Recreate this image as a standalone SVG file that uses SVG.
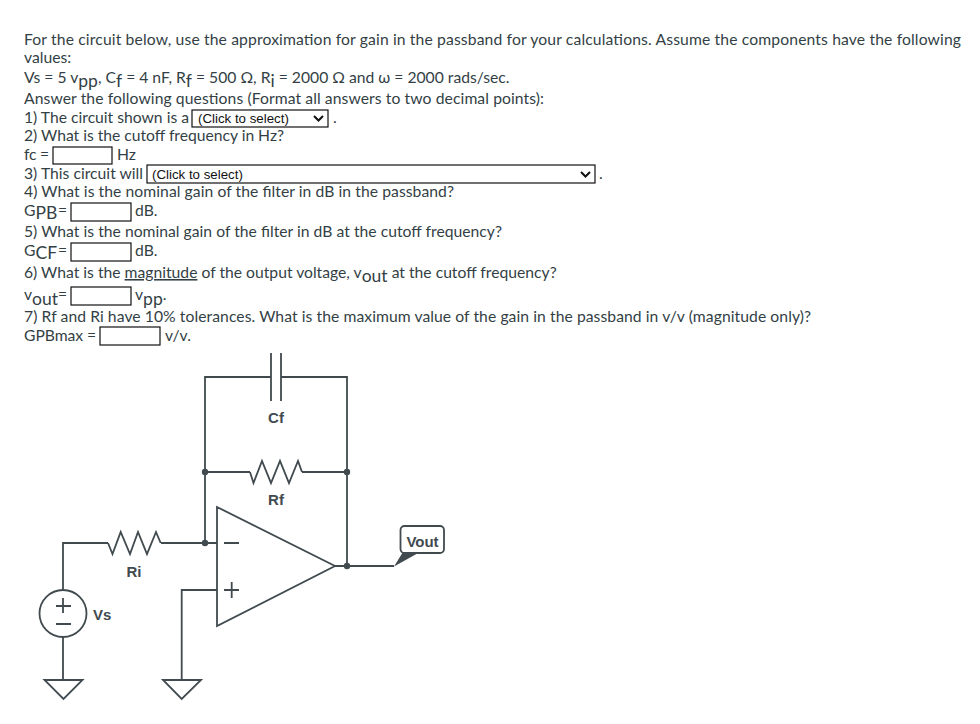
<svg xmlns="http://www.w3.org/2000/svg" width="980" height="724" viewBox="0 0 980 724">
<style>
text{font-family:"Lato","Liberation Sans",sans-serif;font-size:15.7px;fill:#333f45}
.sel{font-family:"Liberation Sans",sans-serif;font-size:13.3px;fill:#111}
.box{fill:#fff;stroke:#111;stroke-width:1.2}
.chev{fill:none;stroke:#111;stroke-width:2}
.w{fill:none;stroke:#414a4e;stroke-width:1.8}
.d{fill:#414a4e}
.lab{font-family:"Liberation Sans",sans-serif;font-size:15px;font-weight:bold;fill:#414a4e}
.sub{font-size:17.500px}
</style>
<rect width="980" height="724" fill="#fff"/>
<g id="question">
<text x="24" y="45" textLength="937">For the circuit below, use the approximation for gain in the passband for your calculations. Assume the components have the following</text>
<text x="24" y="63">values:</text>
<text x="24" y="83">Vs = 5 v<tspan dy="4" class="sub">pp</tspan><tspan dy="-4">, C</tspan><tspan dy="4" class="sub">f</tspan><tspan dy="-4"> = 4 nF, R</tspan><tspan dy="4" class="sub">f</tspan><tspan dy="-4"> = 500 Ω, R</tspan><tspan dy="4" class="sub">i</tspan><tspan dy="-4"> = 2000 Ω and ω = 2000 rads/sec.</tspan></text>
<text x="24" y="104" textLength="520">Answer the following questions (Format all answers to two decimal points):</text>
<text x="24" y="123" textLength="165">1) The circuit shown is a</text>
<rect class="box" x="192" y="110" width="136" height="17"/>
<text class="sel" x="198" y="123">(Click to select)</text>
<path class="chev" d="M314 116l4.500 4.500l4.500-4.500"/>
<text x="333" y="123">.</text>
<text x="24" y="141" textLength="260">2) What is the cutoff frequency in Hz?</text>
<text x="24" y="160" textLength="25">fc =</text>
<rect class="box" x="53" y="147" width="59" height="17"/>
<text x="117" y="160">Hz</text>
<text x="24" y="179" textLength="119">3) This circuit will</text>
<rect class="box" x="147" y="165" width="448" height="18"/>
<text class="sel" x="152" y="179">(Click to select)</text>
<path class="chev" d="M581 172l4.500 4.500l4.500-4.500"/>
<text x="599" y="179">.</text>
<text x="24" y="197" textLength="430">4) What is the nominal gain of the filter in dB in the passband?</text>
<text x="24" y="216">G<tspan dy="3" class="sub" font-size="16">PB</tspan><tspan x="58" dy="-3">=</tspan></text>
<rect class="box" x="71" y="203" width="60" height="18"/>
<text x="135" y="216">dB.</text>
<text x="24" y="237" textLength="478">5) What is the nominal gain of the filter in dB at the cutoff frequency?</text>
<text x="24" y="256">G<tspan dy="3" class="sub">CF</tspan><tspan x="58" dy="-3">=</tspan></text>
<rect class="box" x="71" y="243" width="60" height="18"/>
<text x="135" y="256">dB.</text>
<text x="24" y="278">6) What is the <tspan text-decoration="underline">magnitude</tspan> of the output voltage, v<tspan dy="4" class="sub">out</tspan><tspan dy="-4"> at the cutoff frequency?</tspan></text>
<text x="24" y="300">v<tspan dy="5" class="sub">out</tspan><tspan x="58" dy="-5">=</tspan></text>
<rect class="box" x="71" y="287" width="60" height="18"/>
<text x="135" y="300">v<tspan dy="5" class="sub">pp</tspan><tspan dy="-5">.</tspan></text>
<text x="24" y="322" textLength="787">7) Rf and Ri have 10% tolerances. What is the maximum value of the gain in the passband in v/v (magnitude only)?</text>
<text x="24" y="341" textLength="72">GPBmax =</text>
<rect class="box" x="100" y="327" width="60" height="18"/>
<text x="165" y="341">v/v.</text>
</g>
<g id="connectors">
<path class="w" d="M271 377H205V543M281 377H347V566M205 472H250M302 472H347"/>
<path class="w" d="M63 590V543H108M161 543H217M217 590H181.700V680M63 637V680M335 566H394"/>
</g>
<g id="Cf"><path class="w" d="M271 353V401M281 353V401"/><text class="lab" x="276" y="423" text-anchor="middle">Cf</text></g>
<g id="Rf"><path class="w" d="M250 472L253.500 483L262 461L271 483L280 461L289 483L298 461L302 472"/><text class="lab" x="276" y="505" text-anchor="middle">Rf</text></g>
<g id="Ri"><path class="w" d="M108 543L112.500 554L120.700 532L130 554L138 532L147 554L156 532L160.700 543"/><text class="lab" x="134" y="576.500" text-anchor="middle">Ri</text></g>
<g id="opamp"><path class="w" d="M217 507L335 566L217 626Z"/><path class="w" d="M224 543H239M224 590H239M231.700 582V598"/></g>
<g id="Vs"><circle class="w" cx="63" cy="613.500" r="23.500"/><path class="w" d="M56 606H71M63 598V613M56 624H71"/><text class="lab" x="93" y="620">Vs</text></g>
<g id="gnd1"><path class="w" d="M44.500 680H82.500L63.500 699Z"/></g>
<g id="gnd2"><path class="w" d="M163 680H201L181.700 699Z"/></g>
<g id="junctions"><circle class="d" cx="205" cy="472" r="3.200"/><circle class="d" cx="347" cy="472" r="3.200"/><circle class="d" cx="205" cy="543" r="3.200"/><circle class="d" cx="347" cy="566" r="3.200"/></g>
<g id="Vout"><path class="d" d="M394 566.500L403 552H420Z"/><rect x="400.500" y="526" width="43.500" height="27" rx="4" fill="#fff" stroke="#414a4e" stroke-width="1.800"/><text class="lab" x="422.500" y="546.500" text-anchor="middle">Vout</text></g>
</svg>
